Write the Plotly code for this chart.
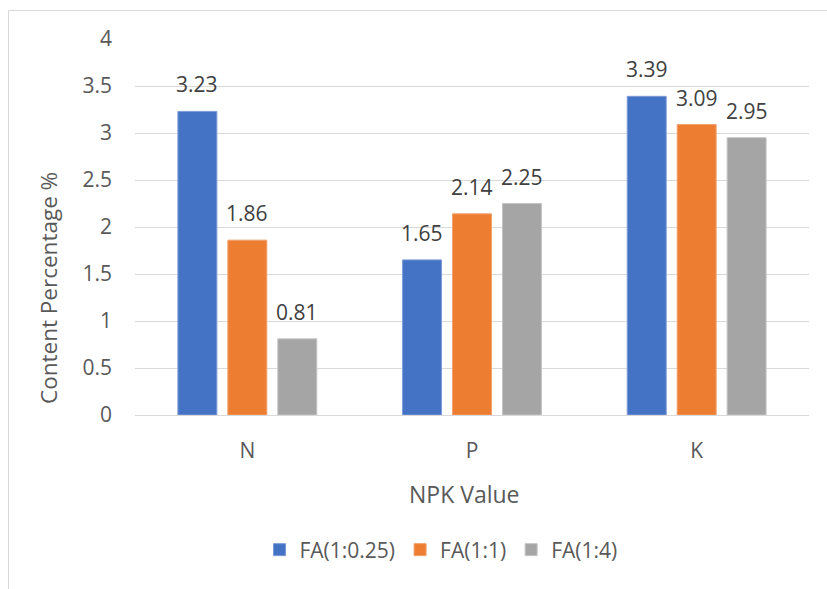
import plotly.graph_objects as go

# NPK content by fly-ash ratio
categories = ["N", "P", "K"]
series_names = ["FA(1:0.25)", "FA(1:1)", "FA(1:4)"]
values_fa_025 = [3.23, 1.65, 3.39]
values_fa_1 = [1.86, 2.14, 3.09]
values_fa_4 = [0.81, 2.25, 2.95]
y_ticks = [0, 0.5, 1, 1.5, 2, 2.5, 3, 3.5, 4]
y_tick_labels = ["0", "0.5", "1", "1.5", "2", "2.5", "3", "3.5", "4"]

colors = ["#4472C4", "#ED7D31", "#A5A5A5"]
edge_colors = ["#7C9BD6", "#F2A06E", "#C4C4C4"]
series_values = [values_fa_025, values_fa_1, values_fa_4]

FONT = "'Open Sans', 'Segoe UI', sans-serif"
TICK_COLOR = "#595959"
LABEL_COLOR = "#404040"

W, H = 827, 589
ML, MR, MT, MB = 135, 18, 39, 174
plot_w = W - ML - MR
plot_h = H - MT - MB

fig = go.Figure()
for name, vals, c, ec in zip(series_names, series_values, colors, edge_colors):
    fig.add_trace(go.Bar(
        x=categories, y=vals, name=name,
        marker=dict(color=c, line=dict(color=ec, width=1)),
        hoverinfo="x+y+name",
    ))

# value labels above each bar
offsets = [-50, 0, 50]
annotations = []
for vals, dx in zip(series_values, offsets):
    for cat, v in zip(categories, vals):
        annotations.append(dict(
            x=cat, y=v, xref="x", yref="y", text=f"{v:g}",
            showarrow=False, xanchor="center", yanchor="bottom",
            xshift=dx, yshift=11,
            font=dict(family=FONT, size=21, color=LABEL_COLOR),
        ))

# axis titles
annotations.append(dict(
    x=(48 - ML) / plot_w, y=(H - MB - 288) / plot_h, xref="paper", yref="paper",
    text="Content Percentage %", textangle=-90, showarrow=False,
    xanchor="center", yanchor="middle",
    font=dict(family=FONT, size=22.5, color=TICK_COLOR),
))
annotations.append(dict(
    x=(464 - ML) / plot_w, y=(H - MB - 494) / plot_h, xref="paper", yref="paper",
    text="NPK Value", showarrow=False, xanchor="center", yanchor="middle",
    font=dict(family=FONT, size=23, color=TICK_COLOR),
))

# chart frame
shapes = [dict(
    type="rect", xref="paper", yref="paper",
    x0=(8.5 - ML) / plot_w, x1=(W + 5 - ML) / plot_w,
    y0=(H - MB - (H + 5)) / plot_h, y1=(H - MB - 10.5) / plot_h,
    line=dict(color="#D9D9D9", width=1), fillcolor="rgba(0,0,0,0)", layer="below",
)]

fig.update_layout(
    width=W, height=H,
    margin=dict(l=ML, r=MR, t=MT, b=MB, pad=0),
    paper_bgcolor="white", plot_bgcolor="white",
    barmode="group", bargap=0.333, bargroupgap=0.22,
    font=dict(family=FONT, size=21, color=TICK_COLOR),
    showlegend=True,
    legend=dict(
        orientation="h", x=(441 - ML) / plot_w, xanchor="center",
        y=(H - MB - 550) / plot_h, yanchor="middle",
        font=dict(family=FONT, size=21, color=TICK_COLOR),
        itemwidth=30, tracegroupgap=0,
        bgcolor="rgba(0,0,0,0)",
    ),
    annotations=annotations,
    shapes=shapes,
    xaxis=dict(
        showgrid=False, showline=True, linecolor="#D9D9D9", linewidth=1,
        ticks="", tickfont=dict(family=FONT, size=21, color=TICK_COLOR),
        ticklabelstandoff=17, fixedrange=True,
    ),
    yaxis=dict(
        range=[0, 4], tickvals=y_ticks, ticktext=y_tick_labels,
        showgrid=True, gridcolor="#D9D9D9", gridwidth=1,
        zeroline=False, showline=False, ticks="",
        tickfont=dict(family=FONT, size=21, color=TICK_COLOR),
        ticklabelstandoff=22, fixedrange=True,
    ),
)

fig.write_html("out.html")
